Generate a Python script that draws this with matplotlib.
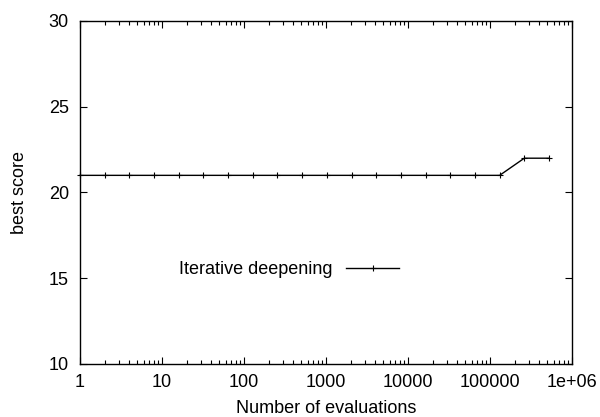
import matplotlib.pyplot as plt
from matplotlib.ticker import LogLocator, NullFormatter, FixedLocator

plt.rcParams['font.family'] = ['Liberation Sans', 'DejaVu Sans']

# number of evaluations (powers of two) and best score reached
evaluations = [1, 2, 4, 8, 16, 32, 64, 128, 256, 512, 1024, 2048, 4096, 8192,
               16384, 32768, 65536, 131072, 262144, 524288]
best_score = [21, 21, 21, 21, 21, 21, 21, 21, 21, 21, 21, 21, 21, 21,
              21, 21, 21, 21, 22, 22]
x_ticks = [1, 10, 100, 1000, 10000, 100000, 1000000]
x_labels = ['1', '10', '100', '1000', '10000', '100000', '1e+06']

fig = plt.figure(figsize=(6, 4.17), dpi=100)
ax = fig.add_axes([80 / 600, 1 - 364 / 417, 492 / 600, 343 / 417])

ax.plot(evaluations, best_score, color='black', lw=1, marker='+', ms=5,
        mew=0.8, label='Iterative deepening', clip_on=False)

ax.set_xscale('log')
ax.set_xlim(1, 1e6)
ax.set_ylim(10, 30)
ax.xaxis.set_major_locator(FixedLocator(x_ticks))
ax.set_xticklabels(x_labels)
ax.xaxis.set_minor_locator(LogLocator(base=10, subs=range(2, 10)))
ax.xaxis.set_minor_formatter(NullFormatter())
ax.set_yticks([10, 15, 20, 25, 30])

ax.tick_params(which='both', direction='in', top=True, right=True,
               labelsize=13, colors='black')
ax.tick_params(axis='x', pad=7)
ax.tick_params(axis='y', pad=8)
ax.tick_params(which='major', length=5, width=0.8)
ax.tick_params(which='minor', length=3, width=0.8)
for s in ax.spines.values():
    s.set_linewidth(1)

ax.set_xlabel('Number of evaluations', fontsize=13, labelpad=7)
ax.set_ylabel('best score', fontsize=13, labelpad=15)

ax.legend(loc='center right', bbox_to_anchor=(0.648, 0.275), frameon=False,
          markerfirst=False, fontsize=13, handlelength=2.9, handletextpad=0.8,
          borderaxespad=0, borderpad=0)

fig.savefig('out.png', dpi=100)
